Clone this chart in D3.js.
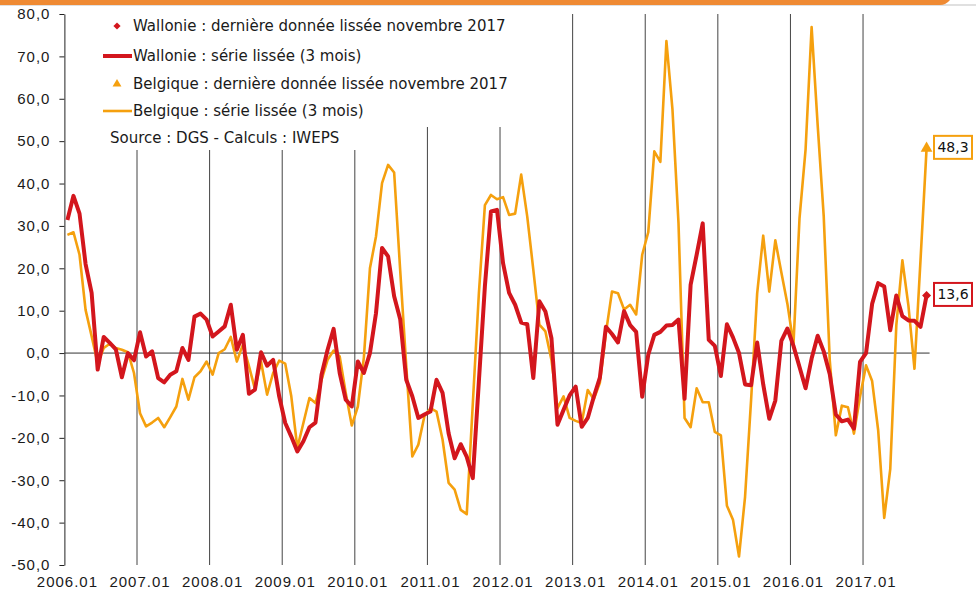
<!DOCTYPE html>
<html>
<head>
<meta charset="utf-8">
<script src="https://cdn.jsdelivr.net/npm/d3@7"></script>
<style>
  body { margin: 0; background: #fff; }
  svg { display: block; font-family: "DejaVu Sans", "Open Sans", sans-serif; }
</style>
</head>
<body>
<div id="chart"></div>
<script>
var width = 976, height = 595

// months 2006.01 -> 2017.11
var years = [2006, 2007, 2008, 2009, 2010, 2011, 2012, 2013, 2014, 2015, 2016, 2017]
var months = []
years.forEach(function(yr) {
  for (var m = 1; m <= 12; m++) {
    if (yr === 2017 && m > 11) break
    months.push(yr + '.' + (m < 10 ? '0' + m : m))
  }
})

var yTicks = [-50, -40, -30, -20, -10, 0, 10, 20, 30, 40, 50, 60, 70, 80]

// Wallonie : série lissée (3 mois)
var wallonie = [
  31.4, 37.1, 32.9, 21.0, 14.2, -3.9, 3.8, 2.4, 0.9, -5.7, 0.0, -1.7,
  4.9, -0.8, 0.4, -5.9, -6.9, -5.1, -4.3, 1.2, -1.6, 8.6, 9.3, 7.9,
  3.9, 5.1, 6.3, 11.4, 0.8, 4.3, -9.6, -8.6, 0.2, -3.0, -1.6, -10.2,
  -16.5, -19.7, -23.2, -20.8, -17.5, -16.4, -5.1, 0.8, 5.7, -4.7, -11.0, -12.6,
  -2.0, -4.7, 0.0, 9.4, 24.8, 22.8, 13.4, 8.0, -6.3, -10.2, -15.3, -14.5,
  -13.8, -6.3, -9.4, -18.9, -24.8, -21.5, -24.5, -29.5, -6.8, 15.8, 33.4, 33.8,
  21.2, 14.2, 11.4, 7.2, 6.8, -5.9, 12.2, 9.8, 3.5, -16.9, -13.4, -10.0,
  -7.9, -17.4, -15.3, -10.3, -5.8, 6.2, 4.5, 2.5, 9.9, 6.6, 5.0, -10.3,
  -0.4, 4.3, 5.0, 6.5, 6.6, 7.9, -10.8, 16.1, 23.2, 30.6, 3.1, 1.7,
  -5.4, 6.8, 3.7, 0.0, -7.4, -7.6, 2.5, -7.4, -15.5, -11.2, 2.9, 5.8,
  1.7, -3.3, -8.3, -1.3, 4.1, 0.4, -5.0, -14.5, -16.1, -15.7, -17.8, -2.1,
  0.0, 11.6, 16.5, 15.7, 5.4, 13.6, 8.7, 7.7, 7.6, 6.2, 13.6
]

// Belgique : série lissée (3 mois)
var belgique = [
  27.9, 28.5, 23.2, 10.2, 4.0, -2.4, 1.2, 2.2, 1.2, 0.8, 0.2, -4.7,
  -14.2, -17.3, -16.4, -15.3, -17.5, -15.1, -12.6, -6.1, -11.0, -5.7, -4.3, -2.0,
  -5.1, 0.0, 0.9, 3.8, -2.0, 2.0, -3.1, -8.5, -2.0, -9.8, -4.7, -1.8,
  -2.5, -10.2, -22.4, -16.5, -10.6, -11.8, -6.3, -1.6, 0.6, -0.8, -9.4, -17.1,
  -12.6, -1.0, 20.0, 27.5, 40.1, 44.4, 42.6, 19.5, -3.0, -24.4, -21.6, -14.9,
  -13.0, -13.8, -20.4, -30.6, -32.2, -37.0, -38.0, -12.0, 14.0, 34.9, 37.3, 36.3,
  36.8, 32.6, 32.9, 42.1, 32.2, 19.7, 6.7, 5.1, -1.6, -13.0, -10.2, -15.3,
  -16.0, -16.5, -8.7, -10.9, -7.0, 4.7, 14.5, 14.1, 10.3, 11.4, 9.1, 23.2,
  28.5, 47.6, 45.1, 73.6, 57.5, 30.6, -15.3, -17.5, -8.3, -11.6, -11.6, -18.6,
  -19.4, -36.0, -39.3, -48.0, -33.9, -11.0, 14.1, 27.7, 14.5, 26.6, 19.0, 11.6,
  2.1, 31.8, 48.0, 76.9, 53.8, 32.3, -1.7, -19.4, -12.4, -12.8, -19.0, -10.3,
  -2.9, -6.6, -18.2, -38.9, -27.3, 6.6, 21.9, 11.2, -3.7, 22.0, 48.3
]

var legendLabels = [
  'Wallonie : dernière donnée lissée novembre 2017',
  'Wallonie : série lissée (3 mois)',
  'Belgique : dernière donnée lissée novembre 2017',
  'Belgique : série lissée (3 mois)'
]
var sourceLabel = 'Source : DGS - Calculs : IWEPS'

var red = '#d3161d', orange = '#f5a00e'

var locale = d3.formatLocale({decimal: ',', thousands: '.', grouping: [3], currency: ['', ' €'], minus: '-'})
var fmt = locale.format('.1f')

var x = d3.scaleBand().domain(months).range([64.4, 929.6])
var y = d3.scaleLinear().domain([-50, 80]).range([565, 14])
var cx = function(m) { return x(m) + x.bandwidth() / 2 }

var svg = d3.select('#chart').append('svg')
  .attr('width', width)
  .attr('height', height)

// top banner
svg.append('line')
  .attr('x1', 0).attr('x2', width).attr('y1', 5).attr('y2', 5)
  .attr('stroke', '#d6d6d6').attr('stroke-width', 1.5)
svg.append('path')
  .attr('d', 'M0,0 H950 Q946,5 940,5 H0 Z')
  .attr('fill', '#ef8a33')

// year separators
var januaries = months.filter(function(m) { return /\.01$/.test(m) })
svg.append('g').selectAll('line')
  .data(januaries.slice(1))
  .enter().append('line')
  .attr('x1', function(d) { return x(d) })
  .attr('x2', function(d) { return x(d) })
  .attr('y1', y(80))
  .attr('y2', y(-50))
  .attr('stroke', '#444')
  .attr('stroke-width', 1)

// legend + source boxes (white, over separators)
svg.append('rect').attr('x', 100).attr('y', 8).attr('width', 420).attr('height', 119).attr('fill', '#fff')
svg.append('rect').attr('x', 100).attr('y', 126).attr('width', 270).attr('height', 24).attr('fill', '#fff')

var fs = 15

// y axis
var yAxis = svg.append('g')
  .attr('transform', 'translate(64.4,0)')
  .call(d3.axisLeft(y).tickValues(yTicks).tickSize(5).tickSizeOuter(0).tickPadding(9)
    .tickFormat(function(d) { return fmt(d) }))
yAxis.select('.domain').attr('stroke', '#222')
yAxis.selectAll('.tick line').attr('stroke', '#222')
yAxis.selectAll('text').attr('font-size', fs).attr('fill', '#1a1a1a')
  .attr('letter-spacing', 1).style('font-family', 'inherit')

// x axis labels
var xAxis = svg.append('g')
  .attr('transform', 'translate(0,565)')
  .call(d3.axisBottom(x).tickValues(januaries).tickSize(0).tickPadding(11))
xAxis.select('.domain').remove()
xAxis.selectAll('text').attr('font-size', fs).attr('fill', '#1a1a1a')
  .attr('letter-spacing', 1).style('font-family', 'inherit')

// zero line
svg.append('line')
  .attr('x1', 64.4).attr('x2', 929.6)
  .attr('y1', y(0)).attr('y2', y(0))
  .attr('stroke', '#333').attr('stroke-width', 1)

var line = d3.line()
  .x(function(d, i) { return cx(months[i]) })
  .y(function(d) { return y(d) })

svg.append('path')
  .datum(belgique)
  .attr('d', line)
  .attr('fill', 'none')
  .attr('stroke', orange)
  .attr('stroke-width', 2.6)
  .attr('stroke-linejoin', 'round')

svg.append('path')
  .datum(wallonie)
  .attr('d', line)
  .attr('fill', 'none')
  .attr('stroke', red)
  .attr('stroke-width', 4)
  .attr('stroke-linejoin', 'round')

// last points
var last = months.length - 1
var lastW = wallonie[last], lastB = belgique[last]
var diamond = d3.symbol().type(d3.symbolSquare)
svg.append('path')
  .attr('d', d3.symbol().type(d3.symbolTriangle).size(60)())
  .attr('transform', 'translate(' + cx(months[last]) + ',' + y(lastB) + ')')
  .attr('fill', orange)
svg.append('path')
  .attr('d', diamond.size(40)())
  .attr('transform', 'translate(' + cx(months[last]) + ',' + y(lastW) + ') rotate(45)')
  .attr('fill', red)

// value boxes
function valueBox(v, color) {
  var g = svg.append('g').attr('transform', 'translate(953,' + (y(v) - 1) + ')')
  g.append('rect')
    .attr('x', -19).attr('y', -11.5).attr('width', 38).attr('height', 23)
    .attr('fill', '#fff').attr('stroke', color).attr('stroke-width', 2)
  g.append('text')
    .attr('text-anchor', 'middle').attr('dy', '0.35em')
    .attr('font-size', 14).attr('fill', '#111')
    .text(fmt(v))
}
valueBox(lastB, orange)
valueBox(lastW, red)

// legend
var legendY = [26, 56, 84, 111]
var lg = svg.append('g')
legendLabels.forEach(function(label, i) {
  var yy = legendY[i]
  if (i === 0) {
    lg.append('path').attr('d', diamond.size(26)())
      .attr('transform', 'translate(117,' + yy + ') rotate(45)').attr('fill', red)
  } else if (i === 2) {
    lg.append('path').attr('d', d3.symbol().type(d3.symbolTriangle).size(34)())
      .attr('transform', 'translate(117,' + yy + ')').attr('fill', orange)
  } else {
    lg.append('line').attr('x1', 103).attr('x2', 132).attr('y1', yy).attr('y2', yy)
      .attr('stroke', i === 1 ? red : orange).attr('stroke-width', i === 1 ? 4 : 2.6)
  }
  lg.append('text')
    .attr('x', 133).attr('y', yy).attr('dy', '0.35em')
    .attr('font-size', fs).attr('fill', '#1a1a1a')
    .text(label)
})
lg.append('text')
  .attr('x', 110).attr('y', 138).attr('dy', '0.35em')
  .attr('font-size', fs).attr('fill', '#1a1a1a')
  .text(sourceLabel)
</script>
</body>
</html>
